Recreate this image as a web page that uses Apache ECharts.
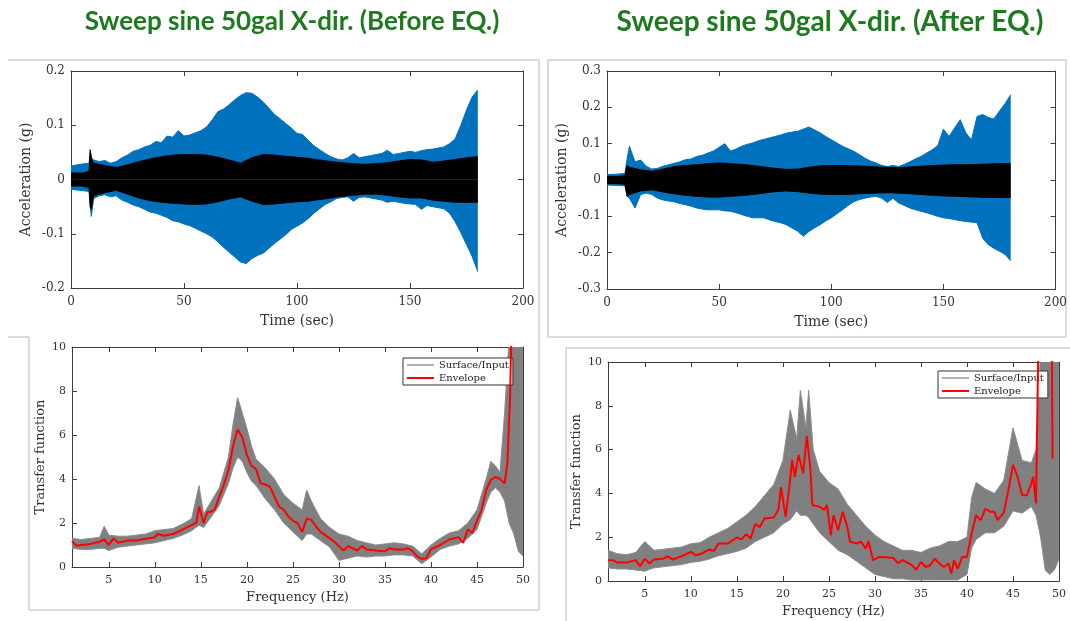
<!DOCTYPE html>
<html>
<head>
<meta charset="utf-8">
<script src="https://cdn.jsdelivr.net/npm/echarts@6/dist/echarts.min.js"></script>
<style>
  html, body { margin: 0; padding: 0; background: #ffffff; }
  #chart { width: 1070px; height: 621px; }
</style>
</head>
<body>
<div id="chart"></div>
<script>
// ---- Acceleration records (g), sampled as upper / lower envelopes of the sweep ----
const tAcc = [0, 4, 8, 8.5, 9, 10,
  12.5, 15, 17.5, 20, 22.5, 25, 27.5, 30, 32.5, 35,
  37.5, 40, 42.5, 45, 47.5, 50, 52.5, 55, 57.5, 60,
  62.5, 65, 67.5, 70, 72.5, 75, 77.5, 80, 82.5, 85,
  87.5, 90, 92.5, 95, 97.5, 100, 102.5, 105, 107.5, 110,
  112.5, 115, 117.5, 120, 122.5, 125, 127.5, 130, 132.5, 135,
  137.5, 140, 142.5, 145, 147.5, 150, 152.5, 155, 157.5, 160,
  162.5, 165, 167.5, 170, 172.5, 175, 177.5, 180];

// Surface record, before the earthquake
const beforeSurfUpper = [0.025, 0.028, 0.03, 0.05, 0.04, 0.036,
  0.033, 0.035, 0.03, 0.033, 0.04, 0.045, 0.052, 0.055, 0.06, 0.063,
  0.07, 0.068, 0.08, 0.078, 0.09, 0.08, 0.082, 0.086, 0.09, 0.097,
  0.11, 0.125, 0.13, 0.138, 0.147, 0.155, 0.16, 0.159, 0.152, 0.143,
  0.132, 0.12, 0.112, 0.103, 0.095, 0.085, 0.083, 0.072, 0.062, 0.055,
  0.048, 0.042, 0.038, 0.036, 0.04, 0.048, 0.04, 0.042, 0.044, 0.046,
  0.048, 0.054, 0.046, 0.048, 0.05, 0.052, 0.05, 0.053, 0.055, 0.056,
  0.058, 0.06, 0.066, 0.075, 0.1, 0.128, 0.152, 0.165];
const beforeSurfLower = [-0.018, -0.02, -0.022, -0.05, -0.068, -0.035,
  -0.03, -0.028, -0.032, -0.03, -0.038, -0.042, -0.047, -0.05, -0.055, -0.06,
  -0.062, -0.066, -0.07, -0.076, -0.078, -0.082, -0.085, -0.09, -0.095, -0.1,
  -0.106, -0.115, -0.125, -0.134, -0.143, -0.152, -0.155, -0.146, -0.14, -0.136,
  -0.127, -0.118, -0.11, -0.102, -0.092, -0.086, -0.08, -0.072, -0.062, -0.054,
  -0.046, -0.041, -0.035, -0.033, -0.032, -0.04, -0.033, -0.032, -0.034, -0.036,
  -0.038, -0.042, -0.04, -0.042, -0.044, -0.045, -0.046, -0.055, -0.048, -0.05,
  -0.052, -0.054, -0.062, -0.078, -0.098, -0.12, -0.142, -0.17];

// Surface record, after the earthquake
const afterSurfUpper = [0.015, 0.016, 0.018, 0.04, 0.06, 0.093,
  0.05, 0.055, 0.038, 0.03, 0.032, 0.038, 0.042, 0.046, 0.05, 0.056,
  0.058, 0.065, 0.068, 0.074, 0.08, 0.09, 0.1, 0.08, 0.085, 0.093,
  0.098, 0.102, 0.108, 0.112, 0.116, 0.12, 0.124, 0.129, 0.132, 0.134,
  0.14, 0.146, 0.138, 0.13, 0.12, 0.111, 0.102, 0.093, 0.086, 0.079,
  0.07, 0.06, 0.052, 0.047, 0.04, 0.037, 0.04, 0.037, 0.043, 0.05,
  0.058, 0.065, 0.074, 0.083, 0.095, 0.14, 0.12, 0.143, 0.166, 0.13,
  0.11, 0.175, 0.18, 0.172, 0.168, 0.19, 0.21, 0.235];
const afterSurfLower = [-0.014, -0.015, -0.016, -0.03, -0.045, -0.05,
  -0.077, -0.04, -0.036, -0.04, -0.05, -0.055, -0.058, -0.06, -0.065, -0.068,
  -0.072, -0.077, -0.08, -0.082, -0.082, -0.082, -0.085, -0.086, -0.09, -0.095,
  -0.1, -0.104, -0.104, -0.104, -0.11, -0.114, -0.118, -0.123, -0.132, -0.141,
  -0.155, -0.142, -0.132, -0.123, -0.113, -0.104, -0.093, -0.082, -0.07, -0.06,
  -0.054, -0.05, -0.047, -0.045, -0.05, -0.062, -0.05, -0.063, -0.07, -0.077,
  -0.082, -0.086, -0.09, -0.095, -0.1, -0.104, -0.106, -0.109, -0.112, -0.114,
  -0.116, -0.118, -0.16, -0.178, -0.188, -0.196, -0.205, -0.222];

// Input (base) record envelopes
const tBase = [0, 5, 8, 8.5, 9, 10, 15, 20, 25, 30, 35, 40, 45, 50, 55, 60, 65, 70, 75, 80,
  85, 90, 95, 100, 105, 110, 115, 120, 125, 130, 135, 140, 145, 150, 155, 160, 165, 170, 175, 180];
const beforeBaseUpper = [0.012, 0.012, 0.015, 0.055, 0.04, 0.03, 0.026, 0.022, 0.027, 0.033,
  0.038, 0.042, 0.045, 0.046, 0.046, 0.045, 0.041, 0.036, 0.03, 0.04,
  0.046, 0.045, 0.043, 0.041, 0.039, 0.036, 0.033, 0.031, 0.029, 0.028,
  0.029, 0.031, 0.034, 0.037, 0.036, 0.032, 0.034, 0.037, 0.04, 0.042];
const beforeBaseLower = [-0.012, -0.012, -0.015, -0.05, -0.055, -0.03, -0.024, -0.02, -0.027, -0.034,
  -0.039, -0.042, -0.044, -0.045, -0.046, -0.045, -0.041, -0.036, -0.032, -0.04,
  -0.046, -0.045, -0.043, -0.041, -0.04, -0.037, -0.034, -0.031, -0.029, -0.027,
  -0.027, -0.029, -0.032, -0.034, -0.034, -0.038, -0.04, -0.042, -0.042, -0.042];
const afterBaseUpper = [0.01, 0.01, 0.012, 0.03, 0.04, 0.035, 0.028, 0.024, 0.03, 0.037,
  0.04, 0.042, 0.045, 0.047, 0.045, 0.043, 0.04, 0.036, 0.032, 0.029,
  0.03, 0.035, 0.039, 0.04, 0.04, 0.039, 0.038, 0.036, 0.035, 0.034,
  0.036, 0.038, 0.04, 0.041, 0.042, 0.042, 0.043, 0.044, 0.045, 0.045];
const afterBaseLower = [-0.01, -0.01, -0.012, -0.03, -0.045, -0.04, -0.03, -0.027, -0.033, -0.038,
  -0.042, -0.045, -0.047, -0.047, -0.045, -0.043, -0.04, -0.036, -0.032, -0.03,
  -0.032, -0.036, -0.039, -0.04, -0.04, -0.039, -0.037, -0.036, -0.035, -0.036,
  -0.038, -0.04, -0.042, -0.044, -0.045, -0.046, -0.047, -0.048, -0.048, -0.048];

// ---- Transfer functions (Surface/Input) ----
const fGrayBefore = [1, 2, 3, 4, 4.5, 5, 6, 7, 8, 9,
  10, 11, 12, 13, 14, 14.8, 15.3, 16, 17, 18,
  18.5, 19, 19.5, 20, 20.5, 21, 22, 23, 24, 25,
  26, 26.5, 27, 28, 29, 30, 31, 32, 33, 34,
  35, 36, 37, 38, 39, 40, 41, 42, 43, 44,
  45, 46, 46.5, 47, 47.5, 48, 48.5, 49, 49.5, 50];
const grayUpBefore = [1.3, 1.25, 1.3, 1.35, 1.85, 1.45, 1.4, 1.4, 1.45, 1.5,
  1.65, 1.7, 1.75, 1.95, 2.2, 3.7, 2.4, 2.9, 3.6, 5.0,
  6.5, 7.7, 7.0, 6.3, 5.5, 4.9, 4.5, 4.0, 3.3, 2.9,
  2.6, 3.5, 3.0, 2.2, 1.8, 1.5, 1.4, 1.2, 1.1, 1.0,
  1.05, 1.1, 1.05, 0.95, 0.6, 1.0, 1.3, 1.55, 1.65, 2.0,
  2.6, 4.0, 4.8, 4.6, 4.3, 7.0, 10.5, 10.5, 10.5, 10.5];
const grayLoBefore = [0.85, 0.8, 0.8, 0.85, 0.85, 0.75, 0.9, 0.95, 1.0, 1.05,
  1.1, 1.2, 1.3, 1.45, 1.65, 1.9, 1.8, 2.2, 2.8, 3.8,
  4.5, 5.0, 4.8, 4.3, 3.9, 3.7, 3.1, 2.6, 2.0, 1.6,
  1.2, 1.5, 1.5, 1.2, 0.9, 0.3, 0.4, 0.5, 0.45, 0.5,
  0.5, 0.55, 0.55, 0.5, 0.15, 0.45, 0.8, 0.95, 1.05, 1.3,
  1.7, 2.9, 3.4, 3.6, 3.4, 3.0, 2.0, 1.5, 0.7, 0.5];
const fRedBefore = [1, 1.5, 2, 3, 4, 4.5, 5, 5.5, 6, 7,
  8, 9, 10, 10.3, 11, 12, 13, 14, 14.5, 14.8,
  15.3, 15.7, 16, 16.5, 17, 17.5, 18, 18.5, 19, 19.5,
  20, 20.5, 21, 21.5, 22, 22.5, 23, 23.5, 24, 24.5,
  25, 25.5, 26, 26.5, 27, 27.5, 28, 28.5, 29, 29.5,
  30, 30.5, 31, 32, 32.5, 33, 34, 35, 35.5, 36,
  37, 37.5, 38, 38.5, 39, 39.5, 40, 41, 42, 43,
  43.5, 44, 44.5, 45, 45.5, 46, 46.5, 47, 47.5, 48,
  48.3, 48.6, 48.8];
const redBefore = [1.17, 0.97, 1.0, 1.05, 1.15, 1.25, 1.0, 1.3, 1.1, 1.2,
  1.2, 1.28, 1.35, 1.5, 1.42, 1.5, 1.7, 1.9, 2.0, 2.75,
  2.0, 2.5, 2.5, 2.6, 3.2, 3.75, 4.4, 5.5, 6.25, 5.9,
  5.1, 4.6, 4.45, 3.8, 3.75, 3.65, 3.2, 2.75, 2.6, 2.3,
  2.1, 2.0, 1.6, 2.2, 2.15, 1.85, 1.6, 1.45, 1.3, 1.15,
  0.95, 0.75, 0.95, 0.75, 0.95, 0.8, 0.75, 0.72, 0.85, 0.8,
  0.8, 0.85, 0.72, 0.48, 0.37, 0.4, 0.8, 1.0, 1.25, 1.35,
  1.1, 1.7, 1.55, 2.1, 2.6, 3.5, 3.95, 4.1, 4.0, 3.8,
  4.7, 7.75, 12];

const fGrayAfter = [1, 2, 3, 4, 5, 6, 7, 8, 9, 10,
  11, 12, 13, 14, 15, 16, 17, 18, 19, 20,
  20.8, 21.5, 21.9, 22.5, 22.8, 23.3, 24, 25, 26, 27,
  28, 29, 30, 31, 32, 33, 34, 35, 36, 37,
  38, 39, 40, 40.5, 41, 42, 43, 44, 45, 46,
  47, 47.5, 48, 48.5, 49, 49.5, 50];
const grayUpAfter = [1.4, 1.25, 1.2, 1.3, 1.8, 1.4, 1.45, 1.5, 1.55, 1.7,
  1.75, 2.0, 2.2, 2.4, 2.7, 3.0, 3.4, 3.9, 4.4, 5.5,
  7.8, 6.5, 8.7, 7.0, 8.7, 6.0, 5.0, 4.5, 4.2, 3.5,
  3.0, 2.5, 2.1, 1.8, 1.6, 1.4, 1.4, 1.3, 1.5, 1.6,
  1.8, 1.8, 2.0, 3.8, 4.5, 4.2, 4.0, 4.6, 7.0, 5.5,
  5.4, 6.0, 10.5, 10.5, 10.5, 10.5, 10.5];
const grayLoAfter = [0.6, 0.55, 0.55, 0.5, 0.45, 0.6, 0.65, 0.7, 0.75, 0.85,
  0.9, 1.0, 1.15, 1.25, 1.35, 1.5, 1.8, 2.0, 2.2, 2.6,
  2.8, 3.2, 3.0, 3.0, 2.9, 2.6, 2.2, 1.8, 1.4, 1.2,
  0.9, 0.6, 0.3, 0.2, 0.1, 0.1, 0.05, 0.05, 0.05, 0.05,
  0.05, 0.05, 0.3, 1.5, 1.9, 2.2, 2.2, 2.5, 3.2, 3.1,
  3.4, 3.0, 2.0, 0.5, 0.3, 0.5, 1.0];
const fRedAfter = [1, 1.5, 2, 3, 4, 4.5, 5, 5.5, 6, 7,
  7.5, 8, 9, 10, 10.5, 11, 12, 12.5, 13, 14,
  15, 15.5, 16, 16.5, 17, 17.5, 18, 19, 19.5, 19.8,
  20.3, 20.7, 21, 21.3, 21.7, 22.2, 22.6, 23, 23.2, 24,
  24.5, 24.8, 25.2, 25.5, 26, 26.5, 27, 27.3, 28, 28.5,
  29, 29.3, 29.8, 30.5, 31, 32, 32.5, 33, 34, 34.5,
  35, 35.5, 36, 36.5, 37, 37.5, 38, 38.3, 38.6, 39,
  39.5, 40, 40.5, 41, 41.5, 42, 42.5, 43, 43.3, 44,
  44.5, 45, 45.5, 46, 46.5, 47, 47.2, 47.5, 47.8, 49.2,
  49.3];
const redAfter = [0.95, 0.95, 0.84, 0.84, 0.95, 0.67, 1.02, 0.8, 0.98, 1.02,
  1.13, 0.98, 1.13, 1.33, 1.18, 1.22, 1.44, 1.37, 1.71, 1.71,
  1.98, 1.9, 2.14, 1.94, 2.6, 2.47, 2.85, 2.9, 3.24, 4.27,
  2.93, 4.3, 5.52, 4.76, 5.76, 4.92, 6.63, 5.07, 3.47, 3.39,
  3.24, 3.47, 2.09, 3.0, 2.32, 3.16, 2.47, 1.79, 1.71, 1.79,
  1.48, 1.83, 0.95, 1.1, 1.1, 1.05, 0.82, 0.95, 0.72, 0.52,
  0.87, 0.64, 0.72, 1.02, 0.8, 0.64, 0.8, 0.34, 0.95, 0.56,
  1.1, 1.1, 2.17, 3.0, 2.78, 3.31, 3.16, 3.16, 2.78, 3.11,
  4.15, 5.3, 4.76, 3.92, 3.92, 4.46, 4.76, 3.54, 12, 12,
  5.6];

// ---- Axis ticks and labels ----
const freqTicks = [5, 10, 15, 20, 25, 30, 35, 40, 45, 50];
const titles = ['Sweep sine 50gal X-dir. (Before EQ.)', 'Sweep sine 50gal X-dir. (After EQ.)'];

// ---- Styling ----
const BLUE = '#0072BD';
const AXIS = '#3c3c3c';
const GRAY = '#808080';
const RED = '#ff0000';
const SERIF = 'DejaVu Serif';
const FRAME = '#cfcfcf';

const pairs = (xs, ys) => xs.map((x, i) => [x, ys[i]]);

const grids = [
  { left: 71, top: 71, width: 452, height: 217 },
  { left: 607, top: 71, width: 451, height: 218 },
  { left: 72, top: 347, width: 451, height: 220 },
  { left: 608, top: 362, width: 451, height: 219 }
];

// the two upper plots are set a little larger than the lower ones
const labelSize = [12, 12, 11, 11];
const nameSize = [14, 14, 13, 13];
const lineAx = { show: true, onZero: false, lineStyle: { color: AXIS, width: 1 } };
const tickIn = { show: true, inside: true, length: 5, lineStyle: { color: AXIS, width: 1 } };
const labelStyle = g => ({ color: '#333', fontFamily: SERIF, fontSize: labelSize[g] });
const nameStyle = g => ({ color: '#333', fontFamily: SERIF, fontSize: nameSize[g] });

function xMain(g, cfg) {
  const a = {
    type: 'value', gridIndex: g, position: 'bottom',
    min: cfg.min, max: cfg.max,
    axisLine: lineAx, axisTick: Object.assign({}, tickIn),
    axisLabel: Object.assign({ margin: 8 }, labelStyle(g)),
    splitLine: { show: false },
    name: cfg.name, nameLocation: 'middle', nameGap: cfg.nameGap, nameTextStyle: nameStyle(g)
  };
  if (cfg.interval) a.interval = cfg.interval;
  if (cfg.ticks) {
    a.axisTick.customValues = cfg.ticks;
    a.axisLabel.customValues = cfg.ticks;
  }
  return a;
}
function xMirror(g, cfg) {
  const a = {
    type: 'value', gridIndex: g, position: 'top',
    min: cfg.min, max: cfg.max,
    axisLine: lineAx, axisTick: Object.assign({}, tickIn),
    axisLabel: { show: false }, splitLine: { show: false }
  };
  if (cfg.interval) a.interval = cfg.interval;
  if (cfg.ticks) a.axisTick.customValues = cfg.ticks;
  return a;
}
function yMain(g, cfg) {
  return {
    type: 'value', gridIndex: g, position: 'left',
    min: cfg.min, max: cfg.max, interval: cfg.interval,
    axisLine: lineAx, axisTick: tickIn,
    axisLabel: Object.assign({ margin: 6 }, labelStyle(g)),
    splitLine: { show: false },
    name: cfg.name, nameLocation: 'middle', nameGap: cfg.nameGap, nameTextStyle: nameStyle(g)
  };
}
function yMirror(g, cfg) {
  return {
    type: 'value', gridIndex: g, position: 'right',
    min: cfg.min, max: cfg.max, interval: cfg.interval,
    axisLine: lineAx, axisTick: tickIn,
    axisLabel: { show: false }, splitLine: { show: false }
  };
}

const xCfg = [
  { min: 0, max: 200, interval: 50, name: 'Time (sec)', nameGap: 26 },
  { min: 0, max: 200, interval: 50, name: 'Time (sec)', nameGap: 26 },
  { min: 1, max: 50, ticks: freqTicks, name: 'Frequency (Hz)', nameGap: 24 },
  { min: 1, max: 50, ticks: freqTicks, name: 'Frequency (Hz)', nameGap: 24 }
];
const yCfg = [
  { min: -0.2, max: 0.2, interval: 0.1, name: 'Acceleration (g)', nameGap: 38 },
  { min: -0.3, max: 0.3, interval: 0.1, name: 'Acceleration (g)', nameGap: 38 },
  { min: 0, max: 10, interval: 2, name: 'Transfer function', nameGap: 25 },
  { min: 0, max: 10, interval: 2, name: 'Transfer function', nameGap: 25 }
];

// Acceleration envelope: filled from the zero line out to the envelope
function accSeries(g, t, vals, color, z) {
  return {
    type: 'line', xAxisIndex: g, yAxisIndex: g,
    data: pairs(t, vals), symbol: 'none', animation: false, z: z,
    lineStyle: { color: color, width: 1 },
    areaStyle: { color: color, opacity: 1 }
  };
}

// Spread of the raw Surface/Input ratio, drawn as one filled polygon
function bandSeries(g, fs, up, lo) {
  return {
    type: 'custom', name: 'Surface/Input', xAxisIndex: g, yAxisIndex: g,
    clip: true, z: 2, animation: false, silent: true,
    data: fs.map((f, i) => [f, up[i], lo[i]]),
    encode: { x: 0, y: [1, 2] },
    renderItem: function (params, api) {
      if (params.dataIndex !== 0) return null;
      const top = fs.map((f, i) => api.coord([f, up[i]]));
      const bottom = fs.map((f, i) => api.coord([f, lo[i]])).reverse();
      return {
        type: 'polygon',
        shape: { points: top.concat(bottom) },
        style: { fill: GRAY, stroke: '#8c8c8c', lineWidth: 1 }
      };
    }
  };
}
function tfSeries(g, fg, up, lo, fr, red) {
  return [
    // legend entry for the raw ratio
    {
      type: 'line', name: 'Surface/Input', xAxisIndex: g, yAxisIndex: g,
      data: [], symbol: 'none', lineStyle: { color: '#b0b0b0', width: 2 }
    },
    bandSeries(g, fg, up, lo),
    {
      type: 'line', name: 'Envelope', xAxisIndex: g, yAxisIndex: g,
      data: pairs(fr, red), symbol: 'none', animation: false, z: 4,
      lineStyle: { color: RED, width: 2 }
    }
  ];
}

const legendBase = {
  orient: 'vertical', itemWidth: 27, itemHeight: 12, itemGap: 3,
  padding: [2, 4, 2, 3], borderColor: '#333', borderWidth: 1, backgroundColor: '#fff',
  textStyle: { color: '#222', fontFamily: SERIF, fontSize: 10 },
  selectedMode: false,
  data: [
    { name: 'Surface/Input', itemStyle: { opacity: 0 }, lineStyle: { color: '#b0b0b0', width: 2 } },
    { name: 'Envelope', itemStyle: { opacity: 0 }, lineStyle: { color: RED, width: 2 } }
  ]
};

const frameLine = (x1, y1, x2, y2) => ({
  type: 'line', silent: true,
  shape: { x1: x1, y1: y1, x2: x2, y2: y2 },
  style: { stroke: FRAME, lineWidth: 1.5 }
});

const option = {
  backgroundColor: '#ffffff',
  animation: false,
  grid: grids,
  xAxis: [0, 1, 2, 3].map(g => xMain(g, xCfg[g])).concat([0, 1, 2, 3].map(g => xMirror(g, xCfg[g]))),
  yAxis: [0, 1, 2, 3].map(g => yMain(g, yCfg[g])).concat([0, 1, 2, 3].map(g => yMirror(g, yCfg[g]))),
  legend: [
    Object.assign({ left: 403, top: 358 }, legendBase),
    Object.assign({ left: 938, top: 371 }, legendBase)
  ],
  series: [
    accSeries(0, tAcc, beforeSurfUpper, BLUE, 2),
    accSeries(0, tAcc, beforeSurfLower, BLUE, 2),
    accSeries(0, tBase, beforeBaseUpper, '#000', 3),
    accSeries(0, tBase, beforeBaseLower, '#000', 3),
    accSeries(1, tAcc, afterSurfUpper, BLUE, 2),
    accSeries(1, tAcc, afterSurfLower, BLUE, 2),
    accSeries(1, tBase, afterBaseUpper, '#000', 3),
    accSeries(1, tBase, afterBaseLower, '#000', 3)
  ].concat(
    tfSeries(2, fGrayBefore, grayUpBefore, grayLoBefore, fRedBefore, redBefore),
    tfSeries(3, fGrayAfter, grayUpAfter, grayLoAfter, fRedAfter, redAfter)
  ),
  graphic: [
    frameLine(8, 60, 539, 60),
    frameLine(539, 60, 539, 610),
    frameLine(8, 337, 29, 337),
    frameLine(29, 337, 29, 610),
    frameLine(29, 610, 539, 610),
    frameLine(548, 60, 1066, 60),
    frameLine(548, 60, 548, 337),
    frameLine(548, 337, 1066, 337),
    frameLine(1066, 60, 1066, 337),
    frameLine(566, 348, 1070, 348),
    frameLine(566, 348, 566, 621),
    {
      type: 'text', x: 292, y: 22, silent: true,
      style: { text: titles[0], align: 'center', verticalAlign: 'middle',
        fill: '#1e7a1e', font: 'bold 26px Lato' }
    },
    {
      type: 'text', x: 830, y: 22, silent: true,
      style: { text: titles[1], align: 'center', verticalAlign: 'middle',
        fill: '#1e7a1e', font: 'bold 28px Lato' }
    }
  ]
};

const chart = echarts.init(document.getElementById('chart'), null, { renderer: 'canvas' });
chart.setOption(option);
</script>
</body>
</html>
